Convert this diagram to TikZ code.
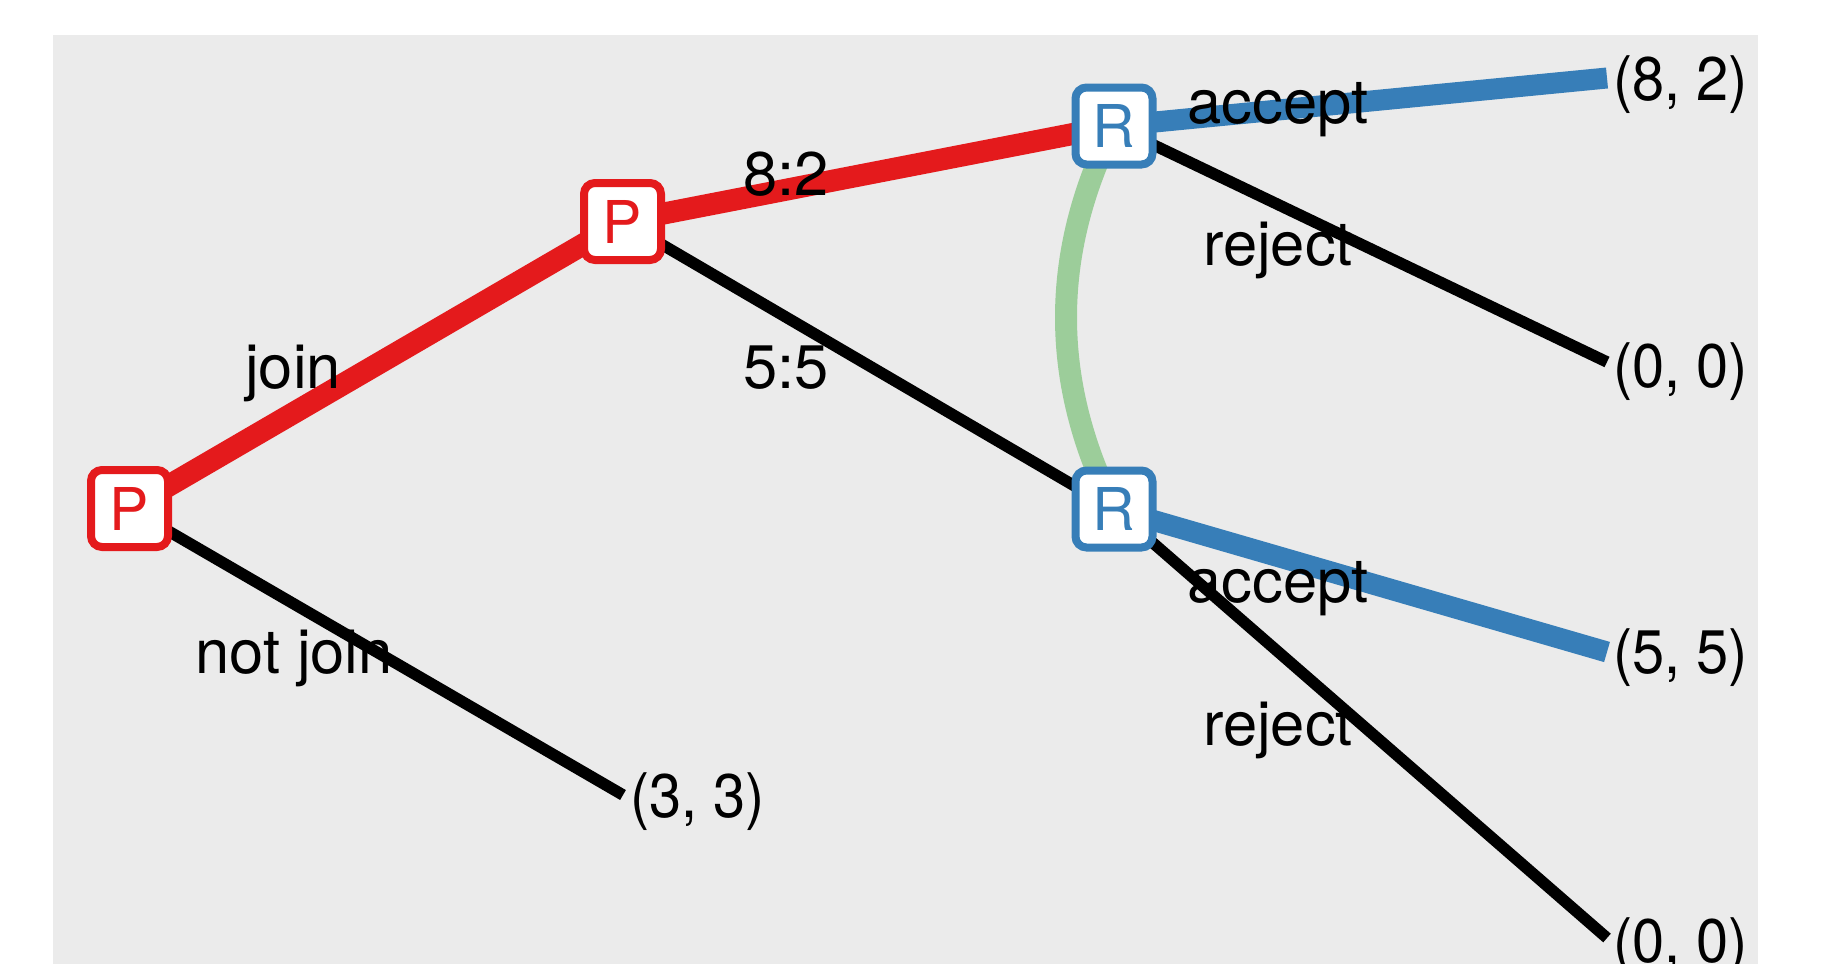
\documentclass[tikz,border=0pt]{standalone}
\usepackage{fontspec}
\setmainfont{TeX Gyre Heros}
\definecolor{setred}{HTML}{E41A1C}
\definecolor{setblue}{HTML}{377EB8}
\definecolor{setgreen}{HTML}{9CCD9A}
\definecolor{bggray}{HTML}{EBEBEB}
\pgfdeclarelayer{bg}
\pgfsetlayers{bg,main}
\begin{document}
\begin{tikzpicture}[x=1pt,y=-1pt,
  bigfont/.style={font=\fontsize{61.5}{72}\selectfont},
  lbl/.style={bigfont, anchor=base, inner sep=0pt},
  leaf/.style={bigfont, anchor=base west, inner sep=0pt},
  player/.style={font=\fontsize{59}{70}\selectfont, draw=#1, text=#1, fill=white, line width=8pt,
    rounded corners=11pt, minimum size=77pt, inner sep=0pt},
  blackedge/.style={line width=11.5pt, black},
  rededge/.style={line width=22pt, setred},
  blueedge/.style={line width=21pt, setblue},
  infoset/.style={line width=22pt, setgreen}]
\useasboundingbox (0,0) rectangle (1821,964);
% nodes
\node[player=setred] (p1) at (129.5,508.5) {P};
\node[player=setred] (p2) at (622.5,221.5) {P};
\node[player=setblue] (r1) at (1114,126) {R};
\node[player=setblue] (r2) at (1114,509) {R};
% leaf ends
\coordinate (l0) at (623,795);
\coordinate (l1) at (1607,78);
\coordinate (l2) at (1607,362);
\coordinate (l3) at (1607,652);
\coordinate (l4) at (1607,938);
\begin{pgfonlayer}{bg}
  \fill[bggray] (53,35) rectangle (1758,964);
  \draw[infoset] (r1.center) .. controls +(-64,127.7) and +(-64,-127.7) .. (r2.center);
  \draw[blackedge] (p1.center) -- (l0);
  \draw[rededge] (p1.center) -- (p2.center);
  \draw[blackedge] (p2.center) -- (r2.center);
  \draw[rededge] (p2.center) -- (r1.center);
  \draw[blackedge] (r1.center) -- (l2);
  \draw[blueedge] (r1.center) -- (l1);
  \draw[blackedge] (r2.center) -- (l4);
  \draw[blueedge] (r2.center) -- (l3);
\end{pgfonlayer}
% edge labels
\node[lbl] (tjoin) at (293,388) {join};
\node[lbl] (tnotjoin) at (294,673) {not join};
\node[lbl] (t82) at (786,195) {8:2};
\node[lbl] (t55) at (786,388) {5:5};
\node[lbl] (tacc1) at (1278,123) {accept};
\node[lbl] (trej1) at (1278,265) {reject};
\node[lbl] (tacc2) at (1278,602) {accept};
\node[lbl] (trej2) at (1278,745) {reject};
% payoffs
\node[leaf] (v0) at (630,817) {\scalebox{0.94}[1]{(3, 3)}};
\node[leaf] (v1) at (1613,100) {\scalebox{0.94}[1]{(8, 2)}};
\node[leaf] (v2) at (1613,387) {\scalebox{0.94}[1]{(0, 0)}};
\node[leaf] (v3) at (1613,673) {\scalebox{0.94}[1]{(5, 5)}};
\node[leaf] (v4) at (1613,962) {\scalebox{0.94}[1]{(0, 0)}};
\end{tikzpicture}
\end{document}
